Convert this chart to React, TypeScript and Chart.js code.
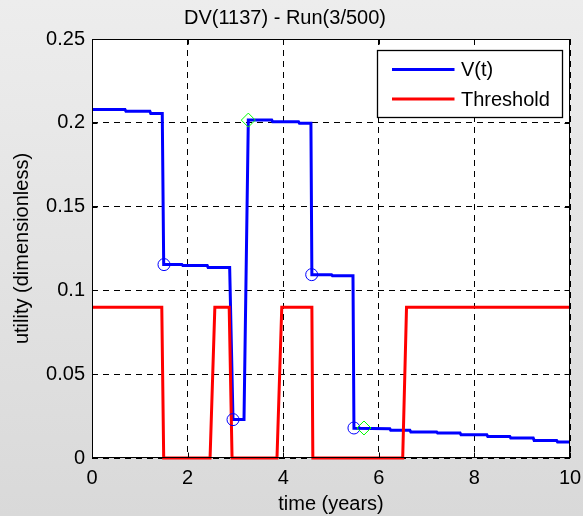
import React, { useEffect, useRef } from 'react';
import { Chart, registerables } from 'chart.js';

Chart.register(...registerables);

const chartTitle = 'DV(1137) - Run(3/500)';
const xAxisLabel = 'time (years)';
const yAxisLabel = 'utility (dimensionless)';
const xTicks = [0, 2, 4, 6, 8, 10];
const xTickLabels = ['0', '2', '4', '6', '8', '10'];
const yTicks = [0, 0.05, 0.1, 0.15, 0.2, 0.25];
const yTickLabels = ['0', '0.05', '0.1', '0.15', '0.2', '0.25'];

const seriesNames = ['V(t)', 'Threshold'];

const vTime = [0, 0.69, 0.71, 1.21, 1.23, 1.47, 1.5, 1.88, 1.9, 2.41, 2.43, 2.88, 2.95, 3.18, 3.27, 3.76, 3.78, 4.32, 4.34, 4.58, 4.6, 5.01, 5.03, 5.46, 5.48, 6.23, 6.25, 6.65, 6.67, 7.21, 7.23, 7.7, 7.72, 8.26, 8.28, 8.74, 8.76, 9.23, 9.25, 9.72, 9.74, 10];
const vValue = [0.2079, 0.2079, 0.2069, 0.2069, 0.2055, 0.2055, 0.1154, 0.1154, 0.1148, 0.1148, 0.1136, 0.1136, 0.0229, 0.0229, 0.2016, 0.2016, 0.2006, 0.2006, 0.1997, 0.1997, 0.1094, 0.1094, 0.1088, 0.1088, 0.0177, 0.0175, 0.0165, 0.0165, 0.0155, 0.0155, 0.0149, 0.0149, 0.0139, 0.0139, 0.0129, 0.0129, 0.0119, 0.0119, 0.0105, 0.0105, 0.0096, 0.0096];

const thrTime = [0, 1.46, 1.5, 2.47, 2.57, 2.87, 2.93, 3.87, 3.97, 4.6, 4.62, 6.5, 6.58, 10];
const thrValue = [0.09, 0.09, 0, 0, 0.09, 0.09, 0, 0, 0.09, 0.09, 0, 0, 0.09, 0.09];

const circleTime = [1.506, 2.95, 4.596, 5.48];
const circleValue = [0.1154, 0.0229, 0.1094, 0.0179];
const diamondTime = [3.27, 5.69];
const diamondValue = [0.2016, 0.0179];

const FONT = 'Liberation Sans, Arial, Helvetica, sans-serif';
const BLUE = '#0000ff';
const RED = '#ff0000';
const GREEN = '#00ff00';

const toPoints = (xs: number[], ys: number[]) => xs.map((x, i) => ({ x, y: ys[i] }));

const decorPlugin = {
  id: 'decor',
  beforeDraw(chart: any) {
    const { ctx, chartArea: a } = chart;
    ctx.save();
    ctx.fillStyle = '#ffffff';
    ctx.fillRect(a.left, a.top, a.right - a.left, a.bottom - a.top);
    ctx.restore();
  },
  afterDraw(chart: any) {
    const { ctx, chartArea: a, scales } = chart;
    ctx.save();
    ctx.setLineDash([]);
    ctx.strokeStyle = '#000';
    ctx.lineWidth = 1;
    const L = Math.round(a.left) + 0.5;
    const R = Math.round(a.right) - 0.5;
    const T = Math.round(a.top) + 0.5;
    const B = Math.round(a.bottom) - 0.5;
    ctx.strokeRect(L, T, R - L, B - T);
    ctx.beginPath();
    xTicks.forEach((v) => {
      const px = Math.round(scales.x.getPixelForValue(v)) + 0.5;
      ctx.moveTo(px, B);
      ctx.lineTo(px, B - 5);
      ctx.moveTo(px, T);
      ctx.lineTo(px, T + 5);
    });
    yTicks.forEach((v) => {
      const py = Math.round(scales.y.getPixelForValue(v)) + 0.5;
      ctx.moveTo(L, py);
      ctx.lineTo(L + 5, py);
      ctx.moveTo(R, py);
      ctx.lineTo(R - 5, py);
    });
    ctx.stroke();

    // legend box
    const bx1 = Math.round(a.right) - 7.5;
    const by0 = Math.round(a.top) + 11.5;
    const bx0 = bx1 - 185;
    const by1 = by0 + 67;
    ctx.fillStyle = '#ffffff';
    ctx.fillRect(bx0, by0, bx1 - bx0, by1 - by0);
    ctx.strokeStyle = '#000';
    ctx.lineWidth = 1.3;
    ctx.strokeRect(bx0, by0, bx1 - bx0, by1 - by0);
    const entries = [0, 1].map((i) => chart.data.datasets[i]);
    entries.forEach((ds: any, i: number) => {
      const y = by0 + 19 + i * 29.5;
      ctx.strokeStyle = ds.borderColor;
      ctx.lineWidth = ds.borderWidth;
      ctx.beginPath();
      ctx.moveTo(bx0 + 14.5, y);
      ctx.lineTo(bx0 + 77, y);
      ctx.stroke();
      ctx.fillStyle = '#000';
      ctx.font = `20px ${FONT}`;
      ctx.textBaseline = 'middle';
      ctx.textAlign = 'left';
      ctx.fillText(ds.label, bx0 + 83.5, y + 1);
    });
    ctx.restore();
  },
};

export default function App() {
  const ref = useRef<HTMLCanvasElement>(null);
  useEffect(() => {
    const canvas = ref.current;
    if (!canvas) return;
    const chart = new Chart(canvas, {
      type: 'scatter',
      data: {
        datasets: [
          {
            label: seriesNames[0],
            data: toPoints(vTime, vValue),
            showLine: true,
            borderColor: BLUE,
            backgroundColor: BLUE,
            borderWidth: 3,
            pointRadius: 0,
            tension: 0,
            clip: false as any,
            order: 4,
          },
          {
            label: seriesNames[1],
            data: toPoints(thrTime, thrValue),
            showLine: true,
            borderColor: RED,
            backgroundColor: RED,
            borderWidth: 3,
            pointRadius: 0,
            tension: 0,
            clip: false as any,
            order: 3,
          },
          {
            label: 'circles',
            data: toPoints(circleTime, circleValue),
            showLine: false,
            pointStyle: 'circle',
            pointRadius: 6,
            pointBorderWidth: 1,
            pointBorderColor: BLUE,
            pointBackgroundColor: 'rgba(0,0,0,0)',
            clip: false as any,
            order: 2,
          },
          {
            label: 'diamonds',
            data: toPoints(diamondTime, diamondValue),
            showLine: false,
            pointStyle: 'rectRot',
            pointRadius: 7,
            pointBorderWidth: 1,
            pointBorderColor: GREEN,
            pointBackgroundColor: 'rgba(0,0,0,0)',
            clip: false as any,
            order: 1,
          },
        ] as any,
      },
      options: {
        responsive: false,
        devicePixelRatio: 1,
        animation: false,
        events: [],
        layout: { padding: { left: 0, right: 13, top: 0, bottom: 0 } },
        plugins: {
          legend: { display: false },
          tooltip: { enabled: false },
          title: {
            display: true,
            text: chartTitle,
            color: '#000',
            font: { family: FONT, size: 20, weight: 'normal' },
            padding: { top: 6, bottom: 9 },
          },
        },
        scales: {
          x: {
            type: 'linear',
            min: 0,
            max: 10,
            afterBuildTicks: (scale: any) => {
              scale.ticks = xTicks.map((v) => ({ value: v }));
            },
            afterFit: (scale: any) => {
              scale.height = 58;
              scale.paddingLeft = 0;
              scale.paddingRight = 0;
            },
            ticks: {
              color: '#000',
              font: { family: FONT, size: 20 },
              padding: 8,
              maxRotation: 0,
              autoSkip: false,
              callback: (value: any) => {
                const i = xTicks.indexOf(Number(value));
                return i >= 0 ? xTickLabels[i] : '';
              },
            },
            grid: { color: '#000', lineWidth: 1, drawTicks: false },
            border: { display: false, dash: [6, 5] },
            title: {
              display: true,
              text: xAxisLabel,
              color: '#000',
              font: { family: FONT, size: 20 },
              padding: { top: 0, bottom: 0 },
            },
          },
          y: {
            type: 'linear',
            min: 0,
            max: 0.25,
            afterBuildTicks: (scale: any) => {
              scale.ticks = yTicks.map((v) => ({ value: v }));
            },
            afterFit: (scale: any) => {
              scale.width = 92;
              scale.paddingTop = 0;
              scale.paddingBottom = 0;
            },
            ticks: {
              color: '#000',
              font: { family: FONT, size: 20 },
              padding: 7,
              autoSkip: false,
              callback: (value: any) => {
                const i = yTicks.findIndex((t) => Math.abs(t - Number(value)) < 1e-9);
                return i >= 0 ? yTickLabels[i] : '';
              },
            },
            grid: { color: '#000', lineWidth: 1, drawTicks: false },
            border: { display: false, dash: [6, 5] },
            title: {
              display: true,
              text: yAxisLabel,
              color: '#000',
              font: { family: FONT, size: 20 },
              padding: { top: 10, bottom: 0 },
            },
          },
        },
      } as any,
      plugins: [decorPlugin],
    });
    return () => chart.destroy();
  }, []);

  return (
    <div
      style={{
        position: 'fixed',
        left: 0,
        top: 0,
        width: 583,
        height: 516,
        background: 'linear-gradient(to bottom, #ededed, #d9d9d9)',
      }}
    >
      <canvas ref={ref} width={583} height={516} style={{ display: 'block', width: 583, height: 516 }} />
    </div>
  );
}
